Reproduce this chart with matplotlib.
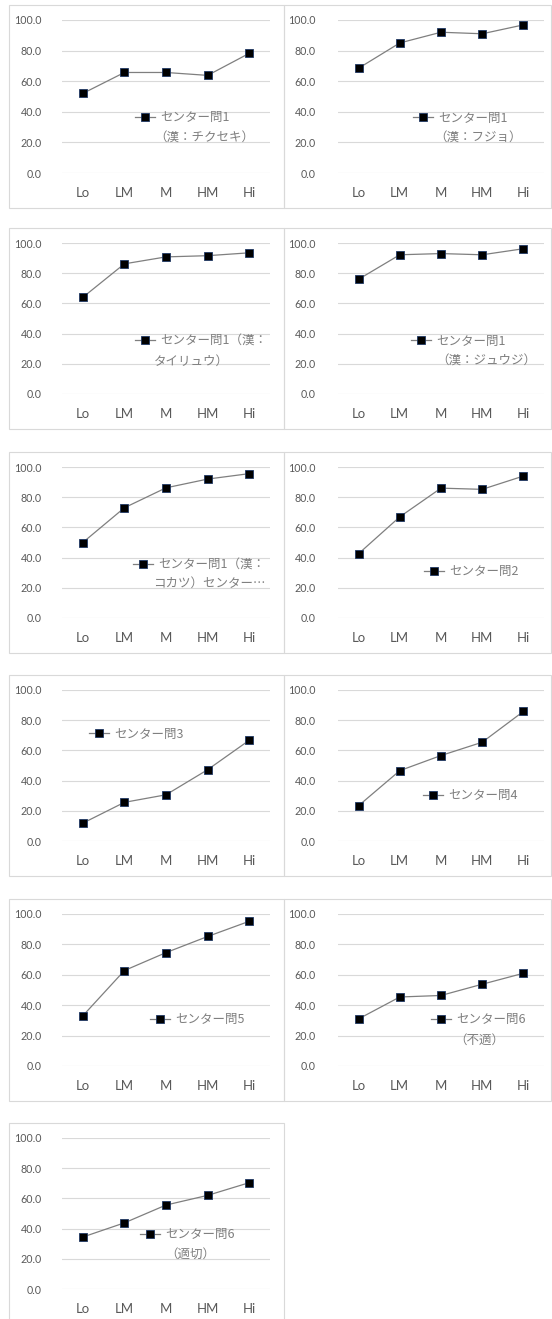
"""Small-multiple line charts: correct-answer rate by score band for each センター item."""

import matplotlib.pyplot as plt
from matplotlib.patches import Rectangle

plt.rcParams["font.family"] = ["Lato", "DejaVu Sans"]

BANDS = ["Lo", "LM", "M", "HM", "Hi"]

# correct-answer rate (%) per band
Q1_CHIKUSEKI = [52.0, 65.7, 65.7, 63.8, 78.2]
Q1_FUJO = [68.5, 85.0, 92.0, 91.0, 96.8]
Q1_TAIRYUU = [64.0, 86.2, 90.8, 91.6, 93.5]
Q1_JUUJI = [76.0, 92.2, 93.0, 92.2, 96.2]
Q1_KOKATSU = [50.0, 73.0, 86.2, 92.0, 95.6]
Q2 = [42.6, 67.0, 86.0, 85.2, 94.0]
Q3 = [11.8, 25.6, 30.6, 47.2, 66.7]
Q4 = [23.4, 46.6, 56.6, 65.4, 85.8]
Q5 = [33.0, 62.8, 74.6, 85.2, 95.2]
Q6_FUTEKI = [31.0, 45.4, 46.4, 53.8, 61.0]
Q6_TEKISETSU = [34.4, 43.8, 55.6, 62.0, 70.4]

SERIES = [
    (Q1_CHIKUSEKI, "センター問1", "（漢：チクセキ）"),
    (Q1_FUJO, "センター問1", "（漢：フジョ）"),
    (Q1_TAIRYUU, "センター問1（漢：", "タイリュウ）"),
    (Q1_JUUJI, "センター問1", "（漢：ジュウジ）"),
    (Q1_KOKATSU, "センター問1（漢：", "コカツ）センター…"),
    (Q2, "センター問2", None),
    (Q3, "センター問3", None),
    (Q4, "センター問4", None),
    (Q5, "センター問5", None),
    (Q6_FUTEKI, "センター問6", "（不適）"),
    (Q6_TEKISETSU, "センター問6", "（適切）"),
]

# legend placement inside each plot area (axes fraction): key start, key row, wrap line centre
LEGEND_POS = [
    (0.35, 0.36, 0.683, 0.229),
    (0.364, 0.358, 0.68, 0.229),
    (0.351, 0.351, 0.62, 0.219),
    (0.354, 0.351, 0.718, 0.219),
    (0.341, 0.351, 0.707, 0.232),
    (0.417, 0.305, None, None),
    (0.13, 0.707, None, None),
    (0.413, 0.30, None, None),
    (0.423, 0.303, None, None),
    (0.45, 0.305, 0.685, 0.166),
    (0.375, 0.358, 0.615, 0.232),
]

W, H = 552, 1319
ROW_Y = [(20, 173), (243, 394), (467, 618), (690, 841), (914, 1066), (1138, 1289)]
COL_X = [(62, 270), (338, 544)]
FRAME_X = [(9, 284), (284, 551)]
GRID = "#d9d9d9"
TEXT = "#595959"
JP = ["Noto Sans CJK JP", "DejaVu Sans"]

fig = plt.figure(figsize=(W / 100, H / 100), dpi=100)
fig.patch.set_facecolor("white")

for i, (values, line1, line2) in enumerate(SERIES):
    row, col = divmod(i, 2)
    y100, y0 = ROW_Y[row]
    x0, x1 = COL_X[col]
    fx0, fx1 = FRAME_X[col]

    # panel frame
    fig.patches.append(Rectangle((fx0 / W, 1 - (y0 + 35) / H), (fx1 - fx0) / W, (y0 + 35 - (y100 - 15)) / H,
                                 transform=fig.transFigure, facecolor="none", edgecolor=GRID,
                                 linewidth=0.8, zorder=-1))

    ax = fig.add_axes([x0 / W, 1 - y0 / H, (x1 - x0) / W, (y0 - y100) / H])
    ax.set_facecolor("none")
    ax.plot(range(len(BANDS)), values, color="#7f7f7f", linewidth=0.9, marker="s", markersize=6,
            markerfacecolor="black", markeredgecolor="#1f3864", markeredgewidth=0.6, label=line1, zorder=3)
    ax.set_xlim(-0.5, len(BANDS) - 0.5)
    ax.set_ylim(0, 100)
    ax.set_yticks(range(0, 101, 20))
    ax.set_yticklabels([f"{v:.1f}" for v in range(0, 101, 20)])
    ax.set_xticks(range(len(BANDS)))
    ax.set_xticklabels(BANDS)
    ax.grid(axis="y", color=GRID, linewidth=0.8)
    ax.set_axisbelow(True)
    for spine in ax.spines.values():
        spine.set_visible(False)
    ax.tick_params(axis="y", length=0, pad=14.5 if col == 0 else 16, labelsize=7.7, labelcolor=TEXT)
    ax.tick_params(axis="x", length=0, pad=10, labelsize=9.5, labelcolor=TEXT)

    kx, ky, wx, wy = LEGEND_POS[i]
    leg = ax.legend(loc="center left", bbox_to_anchor=(kx, ky), frameon=False, borderpad=0, borderaxespad=0,
                    handlelength=1.6, handletextpad=0.45, prop={"family": JP, "size": 9})
    for t in leg.get_texts():
        t.set_color("#7f7f7f")
    if line2:
        ax.text(wx, wy, line2, transform=ax.transAxes, ha="center", va="center",
                family=JP, fontsize=9, color="#7f7f7f")

fig.savefig("out.png", dpi=100)
